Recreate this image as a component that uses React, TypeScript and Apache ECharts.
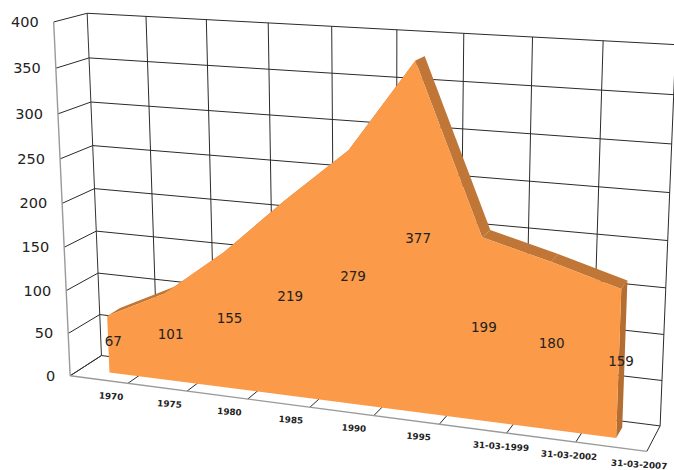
import React, { useEffect, useRef } from "react";
import * as echarts from "echarts";

const categories = ["1970", "1975", "1980", "1985", "1990", "1995", "31-03-1999", "31-03-2002", "31-03-2007"];
const values = [67, 101, 155, 219, 279, 377, 199, 180, 159];
const yTicks = [0, 50, 100, 150, 200, 250, 300, 350, 400];

const W = 674;
const H = 470;
const FRONT = "#FB9A48";
const SIDE = "#C07636";
const CAP = "#B56E32";
const Z0 = 0.34;
const Z1 = 0.76;
const Z_LABEL = 0.5;

// Calibration of the perspective box: [u, v, w, screenX, screenY]
const cal: number[][] = [
  ...[[0, 70, 376], [1, 128.3, 383], [2, 187, 391], [3, 248, 399], [4, 310, 407], [5, 373, 416], [6, 439, 424], [7, 507, 433], [8, 576, 442], [9, 647, 452]].map((p) => [p[0] / 9, 0, 0, p[1], p[2]]),
  ...[[0, 87, 13], [1, 146, 17], [2, 206, 20], [3, 268, 23], [4, 332, 26], [5, 397, 30], [6, 465, 33], [7, 534, 37], [8, 605, 41], [9, 673.5, 44]].map((p) => [p[0] / 9, 1, 1, p[1], p[2]]),
  ...[[350, 88.5, 58], [300, 91, 102], [250, 93, 146], [0, 101, 355]].map((p) => [0, p[0] / 400, 1, p[1], p[2]]),
  ...[[350, 672, 94], [300, 671, 144], [250, 670, 193], [200, 668, 240.6], [150, 666, 287], [100, 664, 335], [50, 662, 381], [0, 660, 426]].map((p) => [1, p[0] / 400, 1, p[1], p[2]]),
  ...[[400, 53, 22], [350, 56, 68], [300, 58, 114], [250, 60, 159], [100, 67, 291], [50, 68, 333]].map((p) => [0, p[0] / 400, 0, p[1], p[2]]),
];

function solveProjection(): number[] {
  const n = 11;
  const A: number[][] = Array.from({ length: n }, () => new Array(n + 1).fill(0));
  const add = (r: number[], b: number) => {
    for (let i = 0; i < n; i++) {
      for (let j = 0; j < n; j++) A[i][j] += r[i] * r[j];
      A[i][n] += r[i] * b;
    }
  };
  for (const [u, v, w, sx, sy] of cal) {
    const X = sx / W;
    const Y = sy / W;
    add([u, v, w, 1, 0, 0, 0, 0, -X * u, -X * v, -X * w], X);
    add([0, 0, 0, 0, u, v, w, 1, -Y * u, -Y * v, -Y * w], Y);
  }
  for (let c = 0; c < n; c++) {
    let piv = c;
    for (let r = c + 1; r < n; r++) if (Math.abs(A[r][c]) > Math.abs(A[piv][c])) piv = r;
    [A[c], A[piv]] = [A[piv], A[c]];
    for (let r = 0; r < n; r++) {
      if (r === c) continue;
      const f = A[r][c] / A[c][c];
      for (let k = c; k <= n; k++) A[r][k] -= f * A[c][k];
    }
  }
  return A.map((row, i) => row[n] / row[i]);
}

const p = solveProjection();
function project(u: number, v: number, w: number): number[] {
  const d = p[8] * u + p[9] * v + p[10] * w + 1;
  return [
    (W * (p[0] * u + p[1] * v + p[2] * w + p[3])) / d,
    (W * (p[4] * u + p[5] * v + p[6] * w + p[7])) / d,
  ];
}

// The hidden grid fills the canvas, so its scales give u, v directly.
const uv = (pt: number[]) => [pt[0] / W, 1 - pt[1] / H];
const at = (api: any, i: number, val: number, w: number) => {
  const [u, v] = uv(api.coord([i, val]));
  return project(u, v, w);
};
const edge = (api: any, i: number) => api.coord([i, 0])[0] / W - api.size([1, 0])[0] / W / 2;
const lv = (api: any, val: number) => uv(api.coord([0, val]))[1];

const line = (points: number[][], stroke = "#2a2a2a", lineWidth = 1) => ({
  type: "polyline",
  shape: { points },
  style: { stroke, lineWidth, fill: "none" },
});

export default function App() {
  const ref = useRef<HTMLDivElement>(null);
  useEffect(() => {
    document.body.style.margin = "0";
    const chart = echarts.init(ref.current!, undefined, { renderer: "svg" });
    chart.setOption({
      animation: false,
      backgroundColor: "#ffffff",
      grid: { left: 0, right: 0, top: 0, bottom: 0 },
      xAxis: { type: "category", data: categories, show: false },
      yAxis: { type: "value", min: 0, max: 400, interval: 50, show: false },
      series: [
        {
          // value lines across left wall and back wall, with value labels
          type: "custom",
          coordinateSystem: "cartesian2d",
          silent: true,
          data: yTicks.map((t) => [0, t]),
          renderItem: (_: any, api: any) => {
            const t = api.value(1);
            const v = lv(api, t);
            const a = project(0, v, 0);
            return {
              type: "group",
              children: [
                line([a, project(0, v, 1), project(1, v, 1)]),
                {
                  type: "text",
                  style: {
                    text: String(t),
                    x: a[0] - 15,
                    y: a[1],
                    align: "right",
                    verticalAlign: "middle",
                    fill: "#222222",
                    font: "14.5px 'DejaVu Sans'",
                  },
                },
              ],
            };
          },
        },
        {
          // category divisions on back wall and floor, with category labels
          type: "custom",
          coordinateSystem: "cartesian2d",
          silent: true,
          data: categories.map((_, i) => [i, 0]),
          renderItem: (params: any, api: any) => {
            const i = params.dataIndex;
            const u0 = edge(api, i);
            const u1 = u0 + api.size([1, 0])[0] / W;
            const children: any[] = [
              line([project(u0, 0, 0), project(u0, 0, 1), project(u0, 1, 1)], i === 0 ? "#333333" : "#2a2a2a"),
            ];
            if (i === categories.length - 1) {
              children.push(line([project(u1, 0, 0), project(u1, 0, 1), project(u1, 1, 1)]));
            }
            if (i === 0) {
              children.push(line([project(0, 1, 0), project(0, 0, 0)], "#9a9a9a", 1.4));
            }
            const c = at(api, i, 0, 0);
            children.push({
              type: "text",
              x: c[0],
              y: c[1] + 16,
              rotation: -0.065,
              style: {
                text: categories[i],
                x: 0,
                y: 0,
                align: "left",
                verticalAlign: "middle",
                fill: "#222222",
                font: "bold 8.8px 'DejaVu Sans'",
              },
            });
            return { type: "group", children };
          },
        },
        {
          // front floor edge
          type: "custom",
          coordinateSystem: "cartesian2d",
          silent: true,
          data: [[0, 0]],
          renderItem: () => line([project(0, 0, 0), project(1, 0, 0)], "#9a9a9a", 1.4),
        },
        {
          // top surface of the ribbon and right cap
          type: "custom",
          coordinateSystem: "cartesian2d",
          silent: true,
          data: values.map((v, i) => [i, v]),
          renderItem: (params: any, api: any) => {
            const i = params.dataIndex;
            const val = api.value(1);
            if (i === values.length - 1) {
              return {
                type: "polygon",
                shape: { points: [at(api, i, val, Z0), at(api, i, val, Z1), at(api, i, 0, Z1), at(api, i, 0, Z0)] },
                style: { fill: CAP },
              };
            }
            return {
              type: "polygon",
              shape: { points: [at(api, i, val, Z0), at(api, i + 1, values[i + 1], Z0), at(api, i + 1, values[i + 1], Z1), at(api, i, val, Z1)] },
              style: { fill: SIDE },
            };
          },
        },
        {
          // front face
          type: "custom",
          coordinateSystem: "cartesian2d",
          silent: true,
          data: [values],
          renderItem: (_: any, api: any) => {
            const top = values.map((v, i) => at(api, i, v, Z0));
            return {
              type: "polygon",
              shape: { points: [...top, at(api, values.length - 1, 0, Z0), at(api, 0, 0, Z0)] },
              style: { fill: FRONT },
            };
          },
        },
        {
          // data labels
          type: "custom",
          coordinateSystem: "cartesian2d",
          silent: true,
          data: values.map((v, i) => [i, v]),
          renderItem: (params: any, api: any) => {
            const val = api.value(1);
            const c = at(api, params.dataIndex, val / 2, Z_LABEL);
            return {
              type: "text",
              style: {
                text: String(val),
                x: c[0],
                y: c[1],
                align: "center",
                verticalAlign: "middle",
                fill: "#222222",
                font: "13.5px 'DejaVu Sans'",
              },
            };
          },
        },
      ],
    });
    return () => chart.dispose();
  }, []);
  return <div ref={ref} style={{ width: W, height: H }} />;
}
